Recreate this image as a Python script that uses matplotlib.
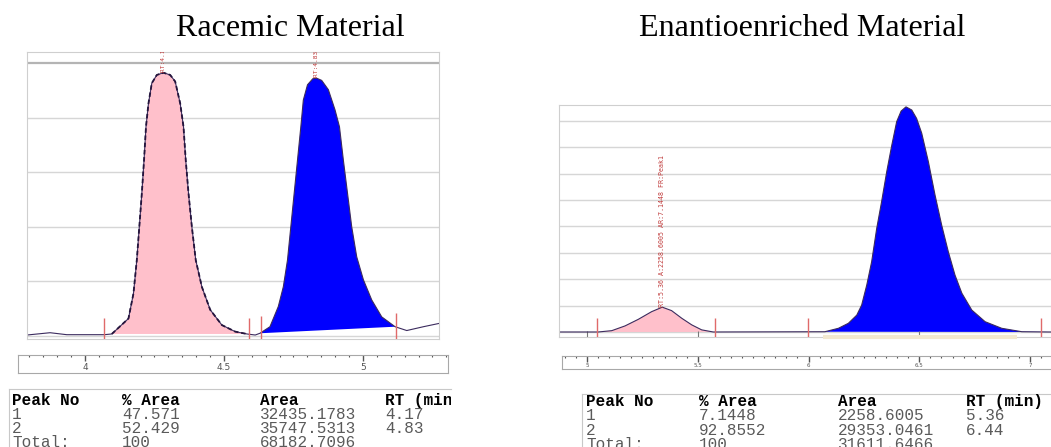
import numpy as np
import matplotlib
matplotlib.use('Agg')
from matplotlib import pyplot as plt
from matplotlib import transforms

W, H = 1051, 447

# racemic run: detector trace, time in min, signal in mAU
rac_time = [3.791, 3.874, 3.934, 4.069, 4.096, 4.156, 4.174, 4.186, 4.195, 4.204,
            4.212, 4.219, 4.228, 4.240, 4.258, 4.282, 4.306, 4.324, 4.342, 4.354,
            4.362, 4.372, 4.384, 4.398, 4.420, 4.450, 4.492, 4.540, 4.582, 4.612,
            4.629, 4.665, 4.695, 4.713, 4.728, 4.740, 4.752, 4.764, 4.776, 4.785,
            4.800, 4.819, 4.833, 4.851, 4.875, 4.899, 4.915, 4.929, 4.944, 4.959,
            4.977, 5.001, 5.031, 5.067, 5.115, 5.157, 5.217, 5.273]
rac_signal = [1.8, 6, 2.4, 2.4, 3.7, 32, 78, 139, 200, 261,
              322, 383, 426, 463, 478, 482, 478, 466, 426, 383,
              322, 261, 200, 139, 90, 48, 20, 8, 3.7, 1.8,
              5, 17, 54, 90, 139, 200, 261, 322, 383, 432,
              460, 471, 472, 468, 451, 414, 383, 322, 261, 200,
              145, 103, 66, 35, 17, 10, 17, 23]
rac_windows = [(4.096, 4.582), (4.629, 5.115)]
rac_events = [4.068, 4.590, 4.633, 5.119]
rac_event_tops = [33, 33, 36, 42]
rac_tags = ["RT:4.17 A:32435.1783 AR:47.571 FR:Peak1",
            "RT:4.83 A:35747.5313 AR:52.429 FR:Peak2"]

# enantioenriched run
ee_time = [4.874, 5.051, 5.112, 5.172, 5.232, 5.292, 5.340, 5.382, 5.428, 5.473,
           5.518, 5.570, 6.074, 6.135, 6.180, 6.218, 6.240, 6.263, 6.285, 6.308,
           6.330, 6.353, 6.376, 6.398, 6.418, 6.440, 6.466, 6.488, 6.511, 6.541,
           6.571, 6.601, 6.631, 6.661, 6.692, 6.737, 6.797, 6.872, 6.963, 7.083, 7.108]
ee_signal = [0, 0, 5, 23, 48, 77, 94, 81, 52, 27,
             8, 0, 1, 14, 33, 64, 102, 178, 266, 393,
             494, 607, 708, 797, 837, 853, 841, 809, 753, 645,
             519, 405, 304, 216, 147, 83, 39, 14, 1, 0, 0]
ee_windows = [(5.051, 5.570), (6.074, 7.083)]
ee_events = [5.045, 5.578, 5.998, 7.050]
ee_event_tops = [53, 53, 53, 53]
# the main peak runs into the top of the frame, so only peak 1 carries a tag
ee_tags = ["RT:5.36 A:2258.6005 AR:7.1448 FR:Peak1", None]

table_header = ["Peak No", "% Area", "Area", "RT (min)"]
rac_rows = [["1", "47.571", "32435.1783", "4.17"],
            ["2", "52.429", "35747.5313", "4.83"],
            ["Total:", "100", "68182.7096", ""]]
ee_rows = [["1", "7.1448", "2258.6005", "5.36"],
           ["2", "92.8552", "29353.0461", "6.44"],
           ["Total:", "100", "31611.6466", ""]]

rac_major = [4.0, 4.5, 5.0]
ee_major = [5.0, 5.5, 6.0, 6.5, 7.0]

PINK = '#ffc0cb'
BLUE = '#0000ff'
TRACE = '#3b2b5e'
MARK = '#e06a6a'


def px_axes(fig, x0, y0, x1, y1):
    return fig.add_axes([x0 / W, 1 - y1 / H, (x1 - x0) / W, (y1 - y0) / H])


def draw_trace(ax, time, signal, windows, colors, events, tops, tags, grid, tag_size):
    t = np.array(time)
    s = np.array(signal)
    for g in grid:
        ax.axhline(g, color='#d6d6d6', lw=1.0, zorder=0)
    for (t0, t1), c in zip(windows, colors):
        sel = (t >= t0) & (t <= t1)
        ax.fill(t[sel], s[sel], color=c, lw=0, zorder=1)
    ax.plot(t, s, color=TRACE, lw=0.8, zorder=2)
    ymin = ax.get_ylim()[0]
    for e, top in zip(events, tops):
        ax.vlines(e, ymin, top, color=MARK, lw=1.0, zorder=3)
    # peak tags written straight up from each apex
    for (t0, t1), tag in zip(windows, tags):
        if tag is None:
            continue
        sel = (t >= t0) & (t <= t1)
        k = np.argmax(s[sel])
        ax.text(t[sel][k], s[sel][k] + 2, tag, rotation=90, ha='center', va='bottom',
                fontsize=tag_size, color='#c03a3a', family='DejaVu Sans Mono',
                clip_on=True, zorder=4)
    ax.set_xticks([])
    ax.set_yticks([])
    for sp in ax.spines.values():
        sp.set_color('#cfcfcf')


def draw_ruler(ax, major, xlim, label_size):
    ax.set_yticks([])
    ax.set_xticks(major)
    ax.set_xticks(np.arange(major[0] - 0.5, major[-1] + 0.5, 0.05), minor=True)
    ax.set_xlim(*xlim)
    ax.tick_params(axis='x', which='both', top=True, bottom=False, direction='in',
                   labelbottom=False, color='#555555')
    ax.tick_params(axis='x', which='major', length=4, width=1)
    ax.tick_params(axis='x', which='minor', length=1.5, width=0.8)
    tr = transforms.blended_transform_factory(ax.transData, ax.transAxes)
    for m in major:
        ax.text(m, 0.3, f"{m:g}", transform=tr, ha='center', va='center',
                fontsize=label_size, color='#555555')
    for sp in ax.spines.values():
        sp.set_color('#a8a8a8')


def draw_table(fig, box, cols, rows_y, rows):
    x0, y0, x1, y1 = box
    ax = px_axes(fig, x0, y0, x1, y1)
    ax.set_xlim(x0, x1)
    ax.set_ylim(y1, y0)
    ax.set_xticks([])
    ax.set_yticks([])
    ax.patch.set_alpha(0)
    for name, sp in ax.spines.items():
        sp.set_visible(name in ('top', 'left'))
        sp.set_color('#c8c8c8')
    for c, h in zip(cols, table_header):
        ax.text(c, rows_y[0], h, fontsize=11.5, family='Liberation Mono',
                weight='bold', va='center', clip_on=True)
    for y, row in zip(rows_y[1:], rows):
        for c, v in zip(cols, row):
            ax.text(c, y, v, fontsize=11.5, family='Liberation Mono',
                    color='#5a5a5a', va='center', clip_on=True)


fig = plt.figure(figsize=(W / 100, H / 100), dpi=100)

fig.text(290 / W, 1 - 36 / H, "Racemic Material", ha='center', va='baseline',
         fontsize=23, family='Liberation Serif')
fig.text(802 / W, 1 - 36 / H, "Enantioenriched Material", ha='center', va='baseline',
         fontsize=23, family='Liberation Serif')

# racemic chromatogram
ax1 = px_axes(fig, 27, 52, 439, 339)
ax1.set_xlim(3.791, 5.273)
ax1.set_ylim(-5.5, 520)
draw_trace(ax1, rac_time, rac_signal, rac_windows, [PINK, BLUE], rac_events,
           rac_event_tops, rac_tags, [0, 100, 200, 300, 400], 4.5)
ax1.axhline(500, color='#b4b4b4', lw=1.6, zorder=0)
sel = (np.array(rac_time) >= rac_windows[0][0]) & (np.array(rac_time) <= rac_windows[0][1])
ax1.plot(np.array(rac_time)[sel], np.array(rac_signal)[sel], color='#24143c',
         lw=1.3, ls=(0, (2.5, 1.5)), zorder=2)

r1 = px_axes(fig, 18, 355, 448, 373)
draw_ruler(r1, rac_major, (3.759, 5.306), 6.5)

# enantioenriched chromatogram
ax2 = px_axes(fig, 559, 105, 1056, 337)
ax2.set_xlim(4.874, 7.117)
ax2.set_ylim(-19, 860)
draw_trace(ax2, ee_time, ee_signal, ee_windows, [PINK, BLUE], ee_events,
           ee_event_tops, ee_tags, [0, 100, 200, 300, 400, 500, 600, 700, 800], 4.8)
ax2.spines['right'].set_visible(False)
ax2.hlines(-19, 6.065, 6.941, color='#f2e8cf', lw=3, clip_on=False, zorder=5)
ax2.set_xticks([5.0, 5.5, 6.5])
ax2.set_xlim(4.874, 7.117)
ax2.tick_params(axis='x', direction='in', length=4, color='#777777', labelbottom=False)

r2 = px_axes(fig, 562, 356, 1056, 369)
draw_ruler(r2, ee_major, (4.887, 7.117), 4)
r2.spines['right'].set_visible(False)

draw_table(fig, (9, 389, 451, 470), [12, 122, 260, 385], [400, 414, 428, 442], rac_rows)
draw_table(fig, (582, 394, 1056, 470), [586, 699, 838, 966], [401, 415, 430, 444], ee_rows)

fig.savefig('out.png', dpi=100)
